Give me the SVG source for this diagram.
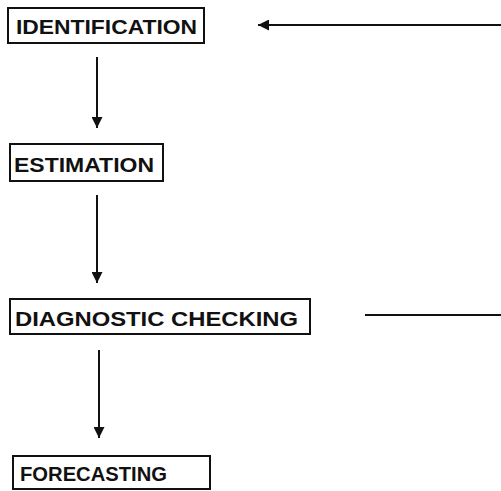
<svg xmlns="http://www.w3.org/2000/svg" width="501" height="491" viewBox="0 0 501 491">
<style>
.box{fill:#fff;stroke:#111;stroke-width:2}
.lbl{font-family:"Liberation Sans",Arial,sans-serif;font-weight:bold;font-size:21px;fill:#111}
.con{stroke:#111;stroke-width:2;fill:none}
</style>
<defs>
<marker id="ah" viewBox="0 0 10 10" refX="10" refY="5" markerWidth="5.5" markerHeight="5.5" orient="auto" markerUnits="strokeWidth">
<path d="M0,0 L10,5 L0,10 z" fill="#111"/>
</marker>
</defs>
<rect width="501" height="491" fill="#fff"/>
<g id="connectors">
<line class="con" x1="97" y1="57" x2="97" y2="128" marker-end="url(#ah)"/>
<line class="con" x1="97" y1="195" x2="97" y2="283" marker-end="url(#ah)"/>
<line class="con" x1="99" y1="350" x2="99" y2="438" marker-end="url(#ah)"/>
<line class="con" x1="365" y1="315" x2="501" y2="315"/>
<line class="con" x1="501" y1="25" x2="258" y2="25" marker-end="url(#ah)"/>
</g>
<g id="identification">
<rect class="box" x="8" y="8" width="196" height="35"/>
<text class="lbl" x="16" y="34" textLength="181" lengthAdjust="spacingAndGlyphs">IDENTIFICATION</text>
</g>
<g id="estimation">
<rect class="box" x="10" y="144" width="153" height="37"/>
<text class="lbl" x="14" y="172" textLength="140" lengthAdjust="spacingAndGlyphs">ESTIMATION</text>
</g>
<g id="diagnostic">
<rect class="box" x="10" y="299" width="300" height="35"/>
<text class="lbl" x="15" y="326" textLength="283" lengthAdjust="spacingAndGlyphs">DIAGNOSTIC CHECKING</text>
</g>
<g id="forecasting">
<rect class="box" x="13" y="456" width="197" height="33"/>
<text class="lbl" x="20" y="481" textLength="147" lengthAdjust="spacingAndGlyphs">FORECASTING</text>
</g>
</svg>
